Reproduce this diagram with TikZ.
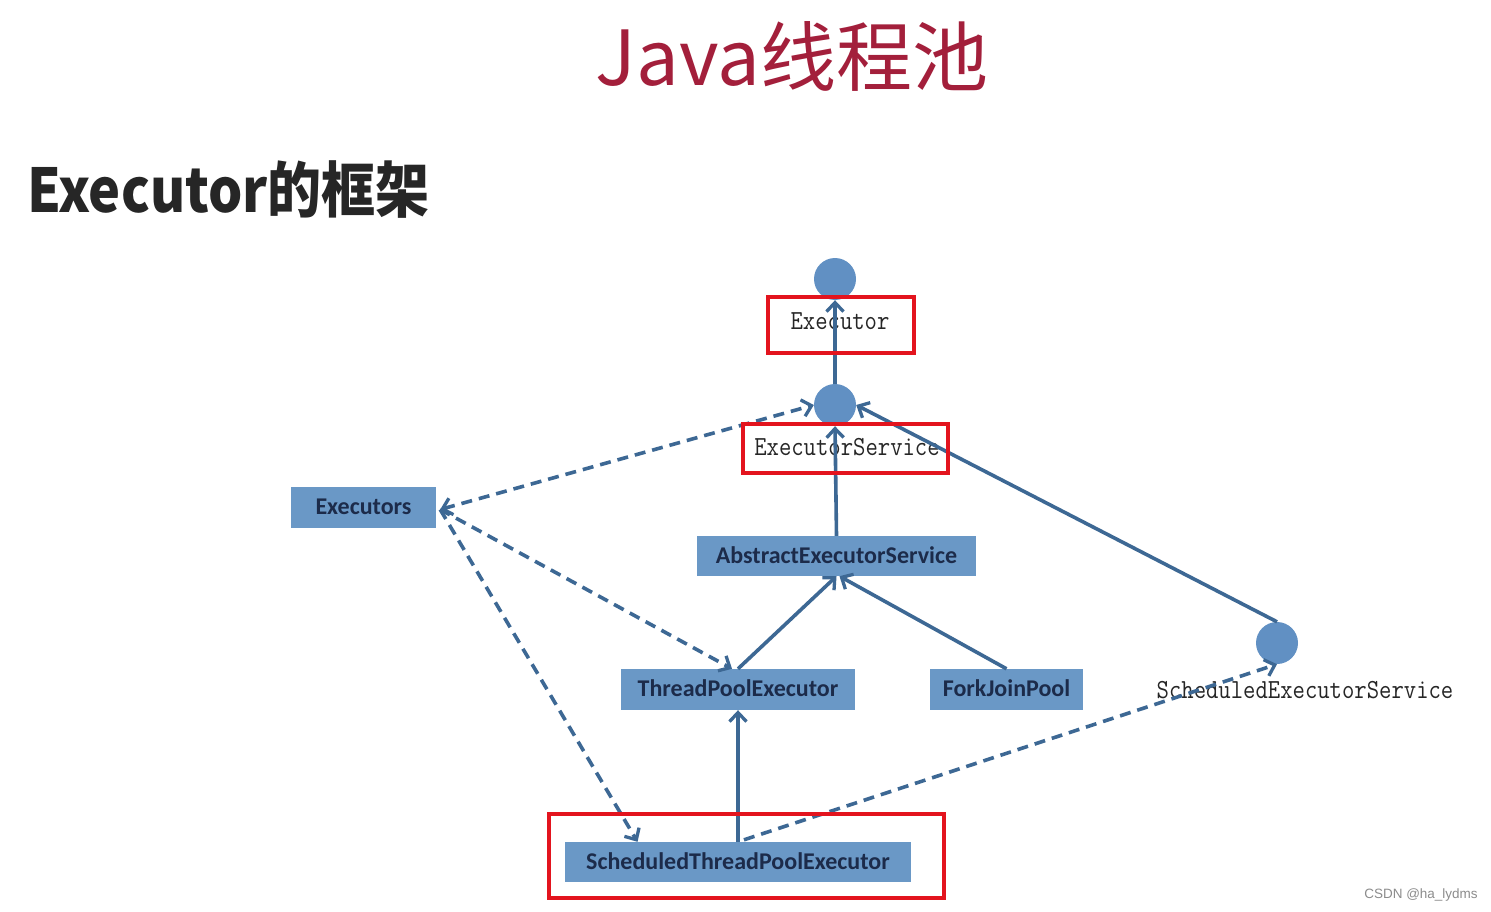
\documentclass[tikz,border=0pt]{standalone}
\usepackage{fontspec}
\usetikzlibrary{arrows.meta,calc}
\newfontfamily\cjk{Noto Sans CJK SC}
\newfontfamily\labf{Carlito}
\newfontfamily\wmf{Liberation Sans}
\definecolor{titlered}{HTML}{A31F3B}
\definecolor{boxblue}{HTML}{6A98C6}
\definecolor{circblue}{HTML}{6190C3}
\definecolor{arrblue}{HTML}{3D6894}
\definecolor{navy}{HTML}{1C2B4A}
\definecolor{hired}{HTML}{E3141E}
\tikzset{
  classbox/.style={fill=boxblue, draw=none, inner sep=0pt, text=navy, text depth=2pt, font=\labf\bfseries\fontsize{24}{28}\selectfont},
  ifcirc/.style={circle, fill=circblue, draw=none, minimum size=42pt, inner sep=0pt},
  iflabel/.style={inner sep=0pt, text=black!85, yscale=1.15, font=\ttfamily\fontsize{24}{28}\selectfont},
  redbox/.style={draw=hired, line width=3.5pt, inner sep=0pt, fill=none},
  tip/.tip={Straight Barb[length=9pt,width=17pt,line width=3.3pt]},
  solidarr/.style={draw=arrblue, line width=3.6pt, -tip},
  dasharr/.style={draw=arrblue, line width=3.6pt, dash pattern=on 11pt off 7pt, -tip},
}
\begin{document}
\begin{tikzpicture}[x=1pt,y=-1pt]
\path[use as bounding box, fill=white] (0,0) rectangle (1491,912);
% titles
\node[text=titlered, font=\cjk\fontsize{76}{84}\selectfont, inner sep=0pt] (title) at (792,56) {Java线程池};
\node[text=black!85, font=\cjk\bfseries\fontsize{54}{62}\selectfont, yscale=1.12, anchor=west, inner sep=0pt] (sub) at (27,190) {Executor的框架};
% class boxes
\node[classbox, minimum width=145pt, minimum height=41pt] (exs) at (363.5,507.5) {Executors};
\node[classbox, minimum width=279pt, minimum height=40pt] (aes) at (836.5,556) {AbstractExecutorService};
\node[classbox, minimum width=234pt, minimum height=41pt] (tpe) at (738,689.5) {ThreadPoolExecutor};
\node[classbox, minimum width=153pt, minimum height=41pt] (fjp) at (1006.5,689.5) {ForkJoinPool};
\node[classbox, minimum width=346pt, minimum height=40pt] (stpe) at (738,862) {ScheduledThreadPoolExecutor};
% interface circles
\node[ifcirc] (ex) at (835,279) {};
\node[ifcirc] (es) at (835,405) {};
\node[ifcirc] (ses) at (1277,643) {};
% interface labels
\node[iflabel] (exl) at (840,321) {Executor};
\node[iflabel] (esl) at (847,447) {ExecutorService};
\node[iflabel] (sesl) at (1305,690) {ScheduledExecutorService};
% solid arrows
\draw[solidarr] (es.north) -- (ex.south);
\draw[solidarr] (aes.north) -- (es.south);
\draw[solidarr] (tpe.north) -- (aes.south);
\draw[solidarr] (fjp.north) -- ($(aes.south)+(3,0)$);
\draw[solidarr] (ses.north) -- (es.east);
\draw[solidarr] (stpe.north) -- (tpe.south);
% dashed arrows
\coordinate (exsR) at ($(exs.east)+(4,2)$);
\draw[dasharr, tip-tip] (exsR) -- (es.west);
\draw[dasharr] (exsR) -- ($(tpe.north)+(-6,0)$);
\draw[dasharr] (exsR) -- ($(stpe.north west)!0.21!(stpe.north east)$);
\draw[dasharr] ($(stpe.north)+(6,-2)$) -- (ses.south);
% highlight boxes
\node[redbox, minimum width=146pt, minimum height=56pt] (exr) at (841,325) {};
\node[redbox, minimum width=205pt, minimum height=49pt] (esr) at (845.5,448.5) {};
\node[redbox, minimum width=395pt, minimum height=84pt] (stper) at (746.5,856) {};
% watermark
\node[text=black!45, font=\wmf\fontsize{13.5}{16}\selectfont, inner sep=0pt] (wm) at (1421,895) {CSDN @ha\_lydms};
\end{tikzpicture}
\end{document}
